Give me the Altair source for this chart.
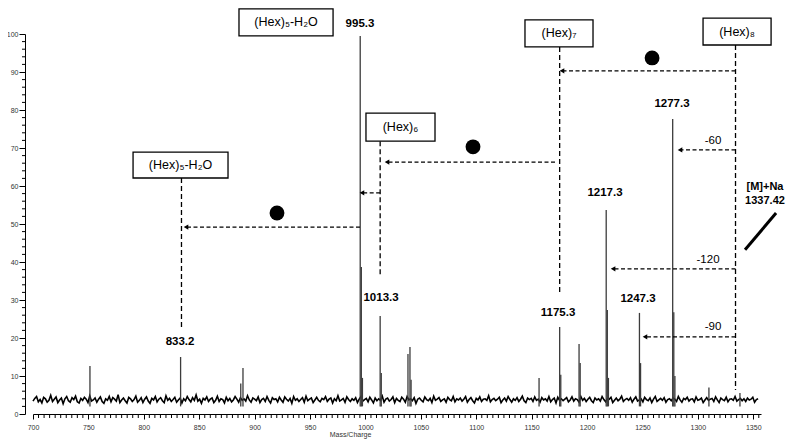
import altair as alt
import pandas as pd

# ---------------- data ----------------
noise_start = 700
noise_step = 1.6
noise_vals = [
    3.4,4.1,4.6,3.2,3.8,2.9,4.4,4.0,3.1,3.6,4.9,3.3,3.9,4.5,3.0,3.7,4.2,2.7,4.0,4.6,
    3.5,3.1,4.3,3.8,4.7,3.2,2.9,4.1,3.6,4.4,3.9,3.0,4.8,3.4,3.7,4.2,3.1,3.9,4.5,3.3,
    2.8,4.0,3.6,4.6,3.2,4.3,3.9,3.4,5.1,3.0,3.7,4.2,3.5,2.9,4.4,4.0,3.3,3.8,4.7,3.1,
    3.6,4.3,3.0,3.9,4.5,3.4,2.8,4.1,3.7,4.6,3.2,3.9,4.3,3.5,3.0,4.8,3.6,4.1,3.3,3.8,
    4.4,3.1,3.7,4.2,2.9,4.0,3.5,4.6,3.8,3.2,4.3,3.6,5.0,3.4,3.9,2.8,4.1,3.7,4.5,3.3,
    3.9,4.2,3.0,3.6,4.7,3.3,4.0,3.8,2.9,4.4,3.5,4.1,3.2,3.7,4.6,3.9,3.1,4.3,3.6,4.0,
    3.4,4.8,3.7,3.1,4.2,3.9,3.5,4.5,3.0,3.8,4.1,3.3,4.6,3.6,2.9,4.3,3.8,4.0,3.2,4.4,
    3.7,3.1,4.5,3.9,3.4,4.1,2.8,4.6,3.6,4.0,3.3,3.8,4.3,3.1,4.7,3.5,3.9,4.2,3.0,3.7,
    4.4,3.6,3.2,4.1,3.8,4.6,3.3,3.9,4.2,2.9,4.0,3.5,4.8,3.4,3.7,4.1,3.1,4.5,3.8,3.3,
    4.0,3.6,4.3,3.0,3.9,4.6,3.4,3.8,4.1,3.2,4.4,3.7,2.9,4.2,3.5,4.0,3.6,4.7,3.1,3.9,
    4.2,3.4,3.8,4.5,3.0,4.1,3.6,3.3,4.4,3.9,3.1,4.6,3.7,4.0,3.5,4.3,2.8,3.9,4.2,3.6,
    3.2,4.5,3.8,3.5,4.1,3.0,4.7,3.6,3.9,4.3,3.3,3.7,4.0,3.1,4.4,3.8,3.5,4.6,3.2,4.0,
    3.7,4.2,3.4,3.9,4.6,3.1,3.8,4.3,3.5,2.9,4.1,3.7,4.5,3.3,3.9,4.0,3.6,4.8,3.2,3.8,
    4.1,3.5,3.9,4.4,3.0,3.7,4.2,3.4,4.6,3.8,3.1,4.0,3.6,4.3,3.3,3.9,4.7,3.5,3.0,4.2,
    3.8,4.1,3.3,4.5,3.6,3.9,3.1,4.3,3.7,4.0,3.4,4.6,3.2,3.8,4.2,2.9,4.4,3.6,4.0,3.5,
    3.9,4.3,3.2,3.7,4.5,3.4,4.0,3.8,3.1,4.6,3.6,4.1,3.3,3.9,4.4,3.5,3.0,4.2,3.7,4.0,
    3.4,4.6,3.8,3.2,4.1,3.9,4.4,3.0,3.6,4.2,3.5,3.9,4.7,3.3,3.8,4.1,3.6,4.3,3.1,3.9,
    4.5,3.4,3.7,4.0,3.2,4.4,3.8,3.5,4.2,3.0,3.9,4.6,3.3,3.7,4.1,3.6,4.3,3.1,3.8,4.0,
    3.5,4.2,3.9,3.3,4.6,3.7,3.1,4.1,3.8,4.4,3.4,3.9,4.0,3.2,4.5,3.6,3.8,4.2,3.0,3.7,
    4.3,3.6,3.9,4.1,3.3,4.5,3.7,3.0,4.2,3.8,3.5,4.4,3.2,3.9,4.0,3.6,4.6,3.4,3.8,4.1,
    3.5,4.0,3.3,4.2,3.7,3.9,4.4,3.1,3.8,4.0,
]

peak_mz = [751.4, 833.2, 887.5, 889.5, 995.3, 996.3, 997.3, 1013.3, 1014.3,
           1038.4, 1040.2, 1041.2, 1156.7, 1175.3, 1176.3, 1192.8, 1193.8,
           1217.3, 1218.3, 1219.3, 1247.3, 1248.3, 1277.3, 1278.3, 1279.3,
           1310.0, 1338.0]
peak_int = [12.6, 15.0, 8.0, 12.1, 99.5, 38.7, 9.5, 25.8, 10.8,
            15.8, 17.6, 9.0, 9.5, 22.9, 10.3, 18.4, 13.4,
            53.7, 27.4, 9.5, 26.6, 13.4, 77.6, 26.8, 10.0,
            7.0, 5.5]

# axis ticks
x_major = list(range(700, 1351, 50))
x_minor = [v for v in range(705, 1356, 5) if v % 50 != 0]
y_major = list(range(0, 101, 10))
y_minor = [v for v in range(2, 100, 2) if v % 10 != 0]

# labelled boxes
box_label = ["(Hex)₅-H₂O", "(Hex)₆", "(Hex)₇", "(Hex)₈", "(Hex)₅-H₂O"]
box_x1 = [885.9, 1000.5, 1144.0, 1304.7, 790.3]
box_x2 = [970.8, 1062.8, 1205.4, 1366.1, 876.0]
box_y1 = [106.6, 79.2, 103.7, 104.2, 68.9]
box_y2 = [99.5, 71.8, 96.6, 97.1, 62.1]

# dashed drop lines
drop_mz = [834.0, 1013.3, 1175.3, 1334.0]
drop_top = [62.1, 71.8, 96.6, 97.1]
drop_bottom = [22.9, 36.0, 31.8, 6.3]

# horizontal dashed arrows (from -> to)
arrow_from = [1334.0, 1334.0, 1171.1, 1013.3, 995.1, 1334.0, 1334.0]
arrow_to = [1177.4, 1283.9, 1019.5, 996.9, 838.1, 1223.5, 1252.3]
arrow_y = [90.3, 69.5, 66.3, 58.2, 49.2, 38.2, 20.3]

# hexose-loss dots
dot_mz = [1097.1, 1258.7, 920.2]
dot_y = [70.3, 93.7, 52.9]

# bold m/z labels
mz_text = ["995.3", "1013.3", "833.2", "1175.3", "1217.3", "1247.3", "1277.3"]
mz_text_x = [995.1, 1014.1, 832.7, 1173.8, 1216.2, 1246.0, 1276.7]
mz_text_y = [102.6, 30.5, 18.9, 26.6, 58.2, 30.3, 81.6]

# neutral-loss labels
loss_text = ["-60", "-120", "-90"]
loss_x = [1313.7, 1309.2, 1313.7]
loss_y = [71.8, 40.5, 22.9]

# precursor annotation
prec_text = ["[M]+Na", "1337.42"]
prec_x = [1360.6, 1360.6]
prec_y = [59.7, 56.1]
prec_line_x = [1342.6, 1370.6]
prec_line_y = [43.2, 52.9]

# ---------------- frames ----------------
noise_df = pd.DataFrame({
    "mz": [noise_start + i * noise_step for i in range(len(noise_vals))],
    "v": noise_vals,
})
peak_df = pd.DataFrame({"mz": peak_mz, "v": peak_int})
xminor_df = pd.DataFrame({"mz": x_minor})
yminor_df = pd.DataFrame({"v": y_minor})
box_df = pd.DataFrame({"label": box_label, "x1": box_x1, "x2": box_x2,
                       "y1": box_y1, "y2": box_y2})
box_df["xc"] = (box_df.x1 + box_df.x2) / 2
box_df["yc"] = (box_df.y1 + box_df.y2) / 2
drop_df = pd.DataFrame({"mz": drop_mz, "top": drop_top, "bot": drop_bottom})
arrow_df = pd.DataFrame({"x1": arrow_from, "x2": arrow_to, "y": arrow_y})
dot_df = pd.DataFrame({"mz": dot_mz, "y": dot_y})
mz_df = pd.DataFrame({"t": mz_text, "x": mz_text_x, "y": mz_text_y})
loss_df = pd.DataFrame({"t": loss_text, "x": loss_x, "y": loss_y})
prec_df = pd.DataFrame({"t": prec_text, "x": prec_x, "y": prec_y})
pline_df = pd.DataFrame({"x1": [prec_line_x[0]], "x2": [prec_line_x[1]],
                         "y1": [prec_line_y[0]], "y2": [prec_line_y[1]]})

W, H = 728, 380
xs = alt.Scale(domain=[700, 1357], nice=False, zero=False)
ys = alt.Scale(domain=[0, 100], nice=False, zero=False)

x_axis = alt.Axis(
    values=x_major, format="d", labelFontSize=7, labelColor="#333",
    labelFont="Liberation Sans", labelPadding=4, labelFlush=False,
    labelOverlap=False, tickSize=5, tickColor="black", domainColor="black",
    grid=False, title="Mass/Charge", titleFontSize=7, titleFontWeight="normal",
    titleFont="Liberation Sans", titleColor="#333",
    titleX=317, titleY=20, titleBaseline="middle",
)
y_axis = alt.Axis(
    values=y_major, format="d", labelFontSize=7, labelColor="#333",
    labelFont="Liberation Sans", labelPadding=1, labelOverlap=False,
    tickSize=6, tickColor="black", domainColor="black",
    grid=False, offset=8, title=None,
)


def X(field):
    return alt.X(field, type="quantitative", scale=xs, axis=x_axis)


def Y(field):
    return alt.Y(field, type="quantitative", scale=ys, axis=y_axis)


noise = alt.Chart(noise_df).mark_line(color="black", strokeWidth=1.6).encode(
    x=X("mz"), y=Y("v"))

xminor = alt.Chart(xminor_df).mark_rule(color="black", strokeWidth=1).encode(
    x=X("mz"), y=alt.value(H), y2=alt.value(H + 4))
yminor = alt.Chart(yminor_df).mark_rule(color="black", strokeWidth=1).encode(
    y=Y("v"), x=alt.value(-8), x2=alt.value(-11))

peaks = alt.Chart(peak_df).mark_rule(color="#3c3c3c", strokeWidth=1.3).encode(
    x=X("mz"), y=Y("v"), y2=alt.datum(2))

drops = alt.Chart(drop_df).mark_rule(color="black", strokeWidth=1.3,
                                      strokeDash=[5, 3]).encode(
    x=X("mz"), y=Y("top"), y2="bot:Q")

arrows = alt.Chart(arrow_df).mark_rule(color="black", strokeWidth=1.2,
                                        strokeDash=[4, 2.5]).encode(
    x=X("x1"), x2="x2:Q", y=Y("y"))

heads = alt.Chart(arrow_df).mark_point(shape="triangle-left", filled=True,
                                        color="black", size=28, opacity=1).encode(
    x=X("x2"), y=Y("y"))

dots = alt.Chart(dot_df).mark_circle(color="black", size=220, opacity=1).encode(
    x=X("mz"), y=Y("y"))

boxes = alt.Chart(box_df).mark_rect(fill="white", stroke="black",
                                     strokeWidth=1.3).encode(
    x=X("x1"), x2="x2:Q", y=Y("y1"), y2="y2:Q")

box_text = alt.Chart(box_df).mark_text(fontSize=12.5, font="Liberation Sans",
                                        color="black", baseline="middle").encode(
    x=X("xc"), y=Y("yc"), text="label:N")

mz_lbl = alt.Chart(mz_df).mark_text(fontSize=11.5, fontWeight="bold",
                                     font="Liberation Sans", color="black",
                                     baseline="middle").encode(
    x=X("x"), y=Y("y"), text="t:N")

loss_lbl = alt.Chart(loss_df).mark_text(fontSize=11.5, font="Liberation Sans",
                                         color="black", baseline="middle").encode(
    x=X("x"), y=Y("y"), text="t:N")

prec_lbl = alt.Chart(prec_df).mark_text(fontSize=11, fontWeight="bold",
                                         font="Liberation Sans", color="black",
                                         baseline="middle").encode(
    x=X("x"), y=Y("y"), text="t:N")

prec_line = alt.Chart(pline_df).mark_rule(color="black", strokeWidth=3).encode(
    x=X("x1"), x2="x2:Q", y=Y("y1"), y2="y2:Q")

chart = alt.layer(
    noise, xminor, yminor, peaks, drops, arrows, heads, dots, boxes, box_text,
    mz_lbl, loss_lbl, prec_lbl, prec_line,
).properties(
    width=W, height=H,
    autosize=alt.AutoSizeParams(type="none"),
    padding={"left": 25, "top": 26, "right": 31, "bottom": 25},
    background="white",
).configure_view(stroke=None).configure_axis(labelOverlap=False)

chart.save("out.html", embed_options={"renderer": "svg", "actions": False})
